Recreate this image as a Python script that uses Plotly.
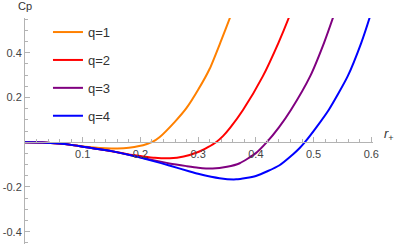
import plotly.graph_objects as go

# ---- data ----
r_q1 = [0, 0.03, 0.06, 0.08, 0.10, 0.12, 0.14, 0.16, 0.18, 0.20, 0.21, 0.22, 0.233, 0.26, 0.28, 0.30, 0.32, 0.34, 0.355, 0.36]
cp_q1 = [0, -0.001, -0.006, -0.012, -0.019, -0.024, -0.027, -0.028, -0.025, -0.016, -0.009, 0.0, 0.022, 0.092, 0.153, 0.234, 0.328, 0.455, 0.555, 0.59]

r_q2 = [0, 0.03, 0.06, 0.08, 0.10, 0.12, 0.14, 0.16, 0.18, 0.20, 0.225, 0.251, 0.275, 0.30, 0.317, 0.331, 0.343, 0.356, 0.378, 0.412, 0.439, 0.457, 0.462]
cp_q2 = [0, -0.001, -0.006, -0.012, -0.020, -0.028, -0.036, -0.045, -0.055, -0.062, -0.070, -0.072, -0.064, -0.044, -0.022, 0.0, 0.027, 0.066, 0.145, 0.294, 0.443, 0.555, 0.59]

r_q3 = [0, 0.03, 0.06, 0.08, 0.10, 0.12, 0.15, 0.19, 0.22, 0.25, 0.28, 0.30, 0.325, 0.35, 0.372, 0.40, 0.419, 0.44, 0.461, 0.494, 0.518, 0.5335, 0.538]
cp_q3 = [0, -0.001, -0.006, -0.012, -0.020, -0.028, -0.040, -0.062, -0.079, -0.095, -0.107, -0.114, -0.118, -0.110, -0.094, -0.049, 0.0, 0.066, 0.145, 0.294, 0.443, 0.555, 0.59]

r_q4 = [0, 0.03, 0.06, 0.08, 0.10, 0.12, 0.15, 0.20, 0.25, 0.2855, 0.30, 0.337, 0.366, 0.40, 0.441, 0.465, 0.476, 0.485, 0.5045, 0.5265, 0.559, 0.5825, 0.597, 0.601]
cp_q4 = [0, -0.001, -0.006, -0.012, -0.020, -0.028, -0.040, -0.069, -0.104, -0.131, -0.141, -0.161, -0.166, -0.151, -0.103, -0.053, -0.026, 0.0, 0.065, 0.145, 0.294, 0.443, 0.555, 0.59]

labels = ["q=1", "q=2", "q=3", "q=4"]
colors = ["#FF8000", "#FF0000", "#800080", "#0000FF"]

x_ticks = [0.1, 0.2, 0.3, 0.4, 0.5, 0.6]
x_ticktext = ["0.1", "0.2", "0.3", "0.4", "0.5", "0.6"]
y_ticks = [-0.4, -0.2, 0.2, 0.4]
y_ticktext = ["-0.4", "-0.2", "0.2", "0.4"]

X_RANGE = [0, 0.603]
Y_RANGE = [-0.455, 0.555]

fig = go.Figure()
series = [(r_q1, cp_q1), (r_q2, cp_q2), (r_q3, cp_q3), (r_q4, cp_q4)]
for (rx, cy), lab, col in zip(series, labels, colors):
    fig.add_trace(go.Scatter(
        x=rx, y=cy, mode="lines", name=lab, legendgroup=lab,
        line=dict(color=col, width=2, shape="spline", smoothing=0.6),
    ))

axis_col = "#b3b3b3"
lab_col = "#444444"
font_family = "Liberation Sans, Arial, sans-serif"

xpos = (0 - Y_RANGE[0]) / (Y_RANGE[1] - Y_RANGE[0])

fig.update_layout(
    width=399, height=244,
    margin=dict(l=25, r=26, t=18, b=0),
    paper_bgcolor="white", plot_bgcolor="white",
    font=dict(family=font_family, size=11, color=lab_col),
    showlegend=True,
    legend=dict(
        x=0.066, y=1.004, xanchor="left", yanchor="top",
        bgcolor="rgba(0,0,0,0)", borderwidth=0,
        font=dict(size=13, color="#333333"),
        tracegroupgap=8, itemwidth=30,
    ),
    xaxis=dict(
        range=X_RANGE, showgrid=False, zeroline=False,
        showline=True, linecolor=axis_col, linewidth=1,
        anchor="free", position=xpos,
        tickmode="array", tickvals=x_ticks, ticktext=x_ticktext,
        ticks="inside", ticklen=5, tickcolor=axis_col, tickwidth=1,
        minor=dict(tickmode="linear", tick0=0, dtick=0.02, ticks="inside",
                   ticklen=3, tickcolor=axis_col, tickwidth=1),
        tickfont=dict(size=11, color=lab_col),
        ticklabelstandoff=2,
        fixedrange=True,
    ),
    yaxis=dict(
        range=Y_RANGE, showgrid=False, zeroline=False,
        showline=True, linecolor=axis_col, linewidth=1,
        tickmode="array", tickvals=y_ticks, ticktext=y_ticktext,
        ticks="inside", ticklen=5, tickcolor=axis_col, tickwidth=1,
        minor=dict(tickmode="linear", tick0=0, dtick=0.05, ticks="inside",
                   ticklen=3, tickcolor=axis_col, tickwidth=1),
        tickfont=dict(size=11, color=lab_col),
        fixedrange=True,
    ),
    annotations=[
        dict(text="Cp", xref="x", yref="paper", x=0, y=1, xanchor="center",
             yanchor="bottom", yshift=4, showarrow=False,
             font=dict(size=11, color="#333333")),
        dict(text="<i>r</i><sub>+</sub>", xref="x", yref="y",
             x=X_RANGE[1], y=0, xanchor="left", yanchor="middle",
             xshift=9, yshift=8, showarrow=False,
             font=dict(size=13, color="#333333")),
    ],
)

fig.write_html("out.html", config={"displayModeBar": False},
               post_script="document.body.style.margin='0px';")
